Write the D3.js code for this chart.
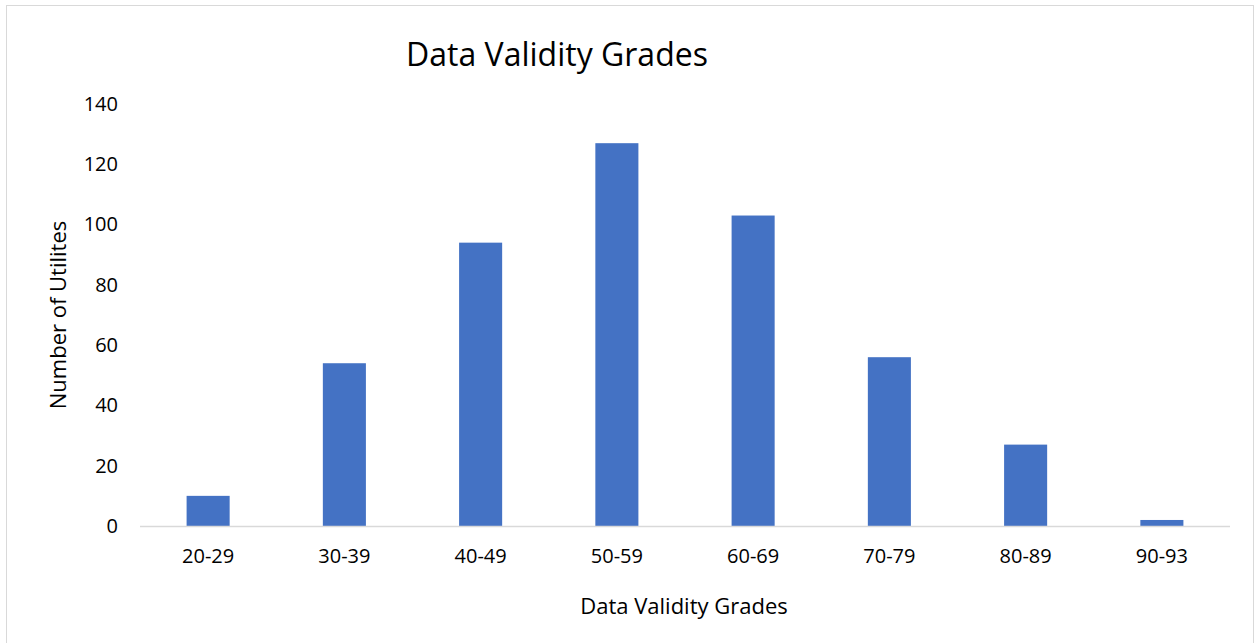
<!DOCTYPE html>
<meta charset="utf-8">
<title>Data Validity Grades</title>
<style>

body {
  margin: 0;
  background: #fff;
}

text {
  font-family: "Open Sans", sans-serif;
  fill: #000;
}

.axis path, .axis line {
  display: none;
}

</style>
<body>
<script src="https://d3js.org/d3.v7.min.js"></script>
<script>

var grades = ["20-29", "30-39", "40-49", "50-59", "60-69", "70-79", "80-89", "90-93"],
    utilities = [10, 54, 94, 127, 103, 56, 27, 2],
    yTicks = [0, 20, 40, 60, 80, 100, 120, 140];

var w = 1258,
    h = 643,
    plotLeft = 140,
    plotRight = 1230,
    plotTop = 104,
    plotBottom = 526;

var svg = d3.select("body").append("svg")
    .attr("width", w)
    .attr("height", h);

// chart frame
svg.append("rect")
    .attr("x", 6.5)
    .attr("y", 5.5)
    .attr("width", 1247)
    .attr("height", 640)
    .attr("fill", "none")
    .attr("stroke", "#d9d9d9");

var x = d3.scaleBand()
    .domain(grades)
    .range([plotLeft, plotRight])
    .paddingInner(0.684)
    .paddingOuter(0.342);

var y = d3.scaleLinear()
    .domain([0, 140])
    .range([plotBottom, plotTop]);

svg.selectAll(".bar")
    .data(utilities)
  .enter().append("rect")
    .attr("class", "bar")
    .attr("x", function(d, i) { return x(grades[i]); })
    .attr("y", function(d) { return y(d); })
    .attr("width", x.bandwidth())
    .attr("height", function(d) { return plotBottom - y(d); })
    .attr("fill", "#4472c4");

// baseline
svg.append("line")
    .attr("x1", plotLeft)
    .attr("x2", plotRight)
    .attr("y1", plotBottom + 0.5)
    .attr("y2", plotBottom + 0.5)
    .attr("stroke", "#d9d9d9")
    .attr("stroke-width", 1.5);

svg.append("g")
    .attr("class", "axis")
    .attr("transform", "translate(" + (plotLeft - 22) + ",0)")
    .call(d3.axisLeft(y).tickValues(yTicks).tickSize(0).tickPadding(0))
    .selectAll("text")
    .style("font-size", "20px");

svg.append("g")
    .attr("class", "axis")
    .attr("transform", "translate(0," + (plotBottom + 23) + ")")
    .call(d3.axisBottom(x).tickSize(0).tickPadding(0))
    .selectAll("text")
    .style("font-size", "20px");

svg.append("text")
    .attr("x", 557)
    .attr("y", 66)
    .attr("text-anchor", "middle")
    .style("font-size", "32px")
    .text("Data Validity Grades");

svg.append("text")
    .attr("x", 684)
    .attr("y", 614)
    .attr("text-anchor", "middle")
    .style("font-size", "22px")
    .text("Data Validity Grades");

svg.append("text")
    .attr("transform", "translate(66,315)rotate(-90)")
    .attr("text-anchor", "middle")
    .style("font-size", "22px")
    .text("Number of Utilites");

</script>
